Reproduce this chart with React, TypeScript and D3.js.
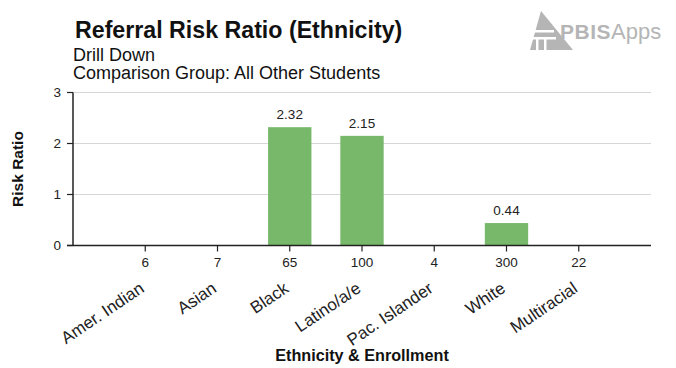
import * as d3 from 'd3'
import React from 'react'

const categories = ['Amer. Indian', 'Asian', 'Black', 'Latino/a/e', 'Pac. Islander', 'White', 'Multiracial']
const enrollment = [6, 7, 65, 100, 4, 300, 22]
const riskRatio: (number | null)[] = [null, null, 2.32, 2.15, null, 0.44, null]
const yTicks = [0, 1, 2, 3]

const WIDTH = 676
const HEIGHT = 368
const LEFT = 73
const RIGHT = 651
const TOP = 92.5
const BOTTOM = 245.5
const FONT = '"Liberation Sans", Arial, sans-serif'
const BAR_COLOR = '#78b86a'
const LOGO_COLOR = '#b5b5b5'

// PBISApps mark, top right
const Logo = () => (
  <g fill={LOGO_COLOR}>
    <path d="M541,11 L573,50 L530,50 Z" />
    <rect x="532" y="30" width="22" height="2.5" fill="#fff" />
    <rect x="530" y="37" width="26" height="2.5" fill="#fff" />
    <rect x="536" y="39" width="2.5" height="11" fill="#fff" />
    <rect x="544" y="39" width="2.5" height="11" fill="#fff" />
    <text x="560" y="39" fontFamily={FONT} fontSize="21" fontWeight="bold" letterSpacing="0.5">PBIS</text>
    <text x="611" y="39" fontFamily={FONT} fontSize="22" fontWeight="300">Apps</text>
  </g>
)

export default function App() {
  const x = d3.scalePoint<string>().domain(categories).range([LEFT, RIGHT]).padding(1)
  const y = d3.scaleLinear().domain([0, 3]).range([BOTTOM, TOP])
  const barWidth = x.step() * 0.6

  return (
    <svg
      width={WIDTH}
      height={HEIGHT}
      style={{ position: 'absolute', left: 0, top: 0, background: '#fff' }}
      fontFamily={FONT}
    >
      <text x={75} y={38} fontSize="23.2" fontWeight="bold" fill="#111">Referral Risk Ratio (Ethnicity)</text>
      <text x={73} y={60.5} fontSize="18" fill="#111">Drill Down</text>
      <text x={73} y={79} fontSize="18" fill="#111">Comparison Group: All Other Students</text>
      <Logo />

      {/* grid */}
      {yTicks.filter(t => t > 0).map(t => (
        <line key={t} x1={LEFT} x2={RIGHT} y1={y(t)} y2={y(t)} stroke="#d6d6d6" strokeWidth={1} />
      ))}

      {/* bars */}
      {categories.map((c, i) => {
        const v = riskRatio[i]
        if (v == null) return null
        const cx = x(c) as number
        return (
          <g key={c}>
            <rect x={cx - barWidth / 2} y={y(v)} width={barWidth} height={y(0) - y(v)} fill={BAR_COLOR} />
            <text x={cx} y={y(v) - 8} textAnchor="middle" fontSize="13.5" fill="#222">{v.toFixed(2)}</text>
          </g>
        )
      })}

      {/* y axis */}
      <line x1={LEFT} x2={LEFT} y1={TOP} y2={BOTTOM} stroke="#222" strokeWidth={1.5} />
      {yTicks.map(t => (
        <g key={t}>
          <line x1={LEFT - 6} x2={LEFT} y1={y(t)} y2={y(t)} stroke="#222" strokeWidth={1.2} />
          <text x={LEFT - 12} y={y(t)} dy="0.35em" textAnchor="end" fontSize="13.5" fill="#222">{t}</text>
        </g>
      ))}
      <text transform={`translate(23,${(TOP + BOTTOM) / 2}) rotate(-90)`} textAnchor="middle" fontSize="15.5" fontWeight="bold" fill="#111">Risk Ratio</text>

      {/* x axis */}
      <line x1={LEFT - 6} x2={RIGHT} y1={BOTTOM} y2={BOTTOM} stroke="#222" strokeWidth={1.5} />
      {categories.map((c, i) => {
        const cx = x(c) as number
        return (
          <g key={c}>
            <line x1={cx} x2={cx} y1={BOTTOM} y2={BOTTOM + 6} stroke="#222" strokeWidth={1.2} />
            <text x={cx} y={BOTTOM + 21} textAnchor="middle" fontSize="13.5" fill="#222">{enrollment[i]}</text>
            <text
              transform={`translate(${cx},${BOTTOM + 45.5}) rotate(-34)`}
              textAnchor="end"
              fontSize="17"
              fill="#222"
            >
              {c}
            </text>
          </g>
        )
      })}
      <text x={(LEFT + RIGHT) / 2} y={361} textAnchor="middle" fontSize="16.2" fontWeight="bold" fill="#111">Ethnicity &amp; Enrollment</text>
    </svg>
  )
}
